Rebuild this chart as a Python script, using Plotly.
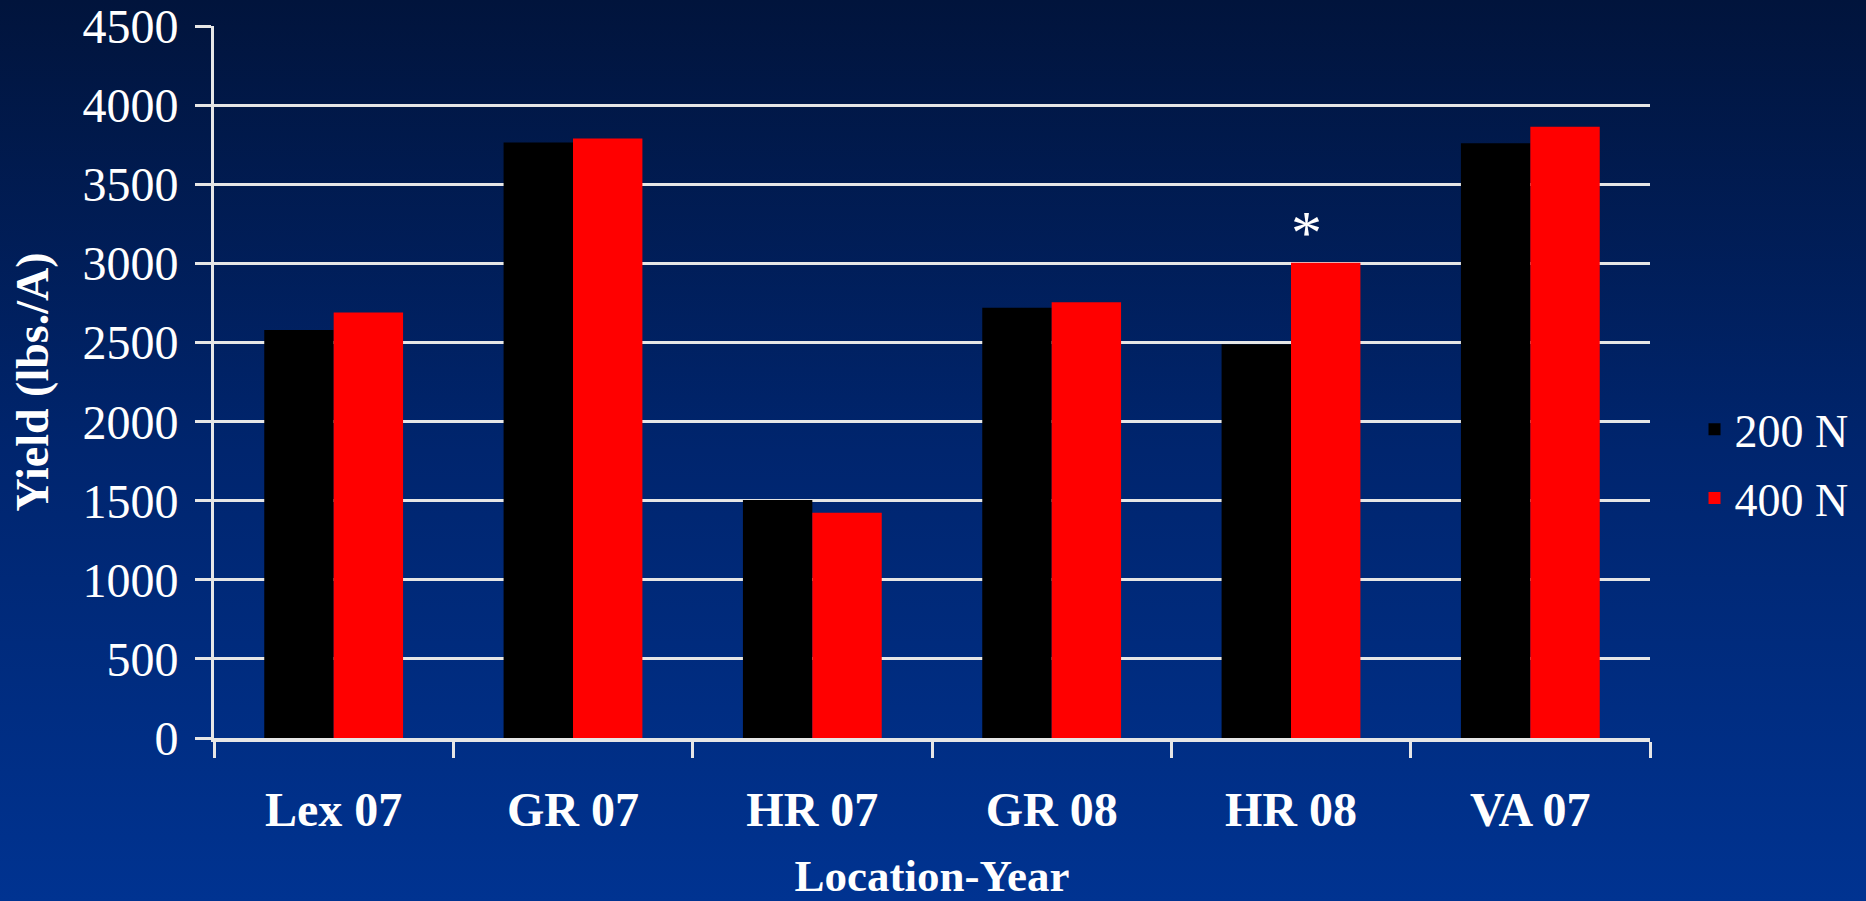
import base64
import plotly.graph_objects as go

categories = ["Lex 07", "GR 07", "HR 07", "GR 08", "HR 08", "VA 07"]
series_names = ["200 N", "400 N"]
yield_200n = [2580, 3765, 1505, 2720, 2490, 3760]
yield_400n = [2690, 3790, 1425, 2755, 3005, 3865]
y_ticks = [0, 500, 1000, 1500, 2000, 2500, 3000, 3500, 4000, 4500]
significant = ["HR 08"]

W, H = 1866, 901
ML, MR, MT, MB = 214, 216, 26, 163
PW, PH = W - ML - MR, H - MT - MB

svg = f'''<svg xmlns="http://www.w3.org/2000/svg" width="{W}" height="{H}" preserveAspectRatio="none">
<defs><linearGradient id="g" x1="0" y1="0" x2="0" y2="1">
<stop offset="0" stop-color="#01143c"/>
<stop offset="0.5" stop-color="#00256e"/>
<stop offset="1" stop-color="#003391"/>
</linearGradient></defs>
<rect x="0" y="0" width="{W}" height="{H}" fill="url(#g)"/></svg>'''
bg_uri = "data:image/svg+xml;base64," + base64.b64encode(svg.encode()).decode()

FONT = "Liberation Serif"

fig = go.Figure()
fig.add_trace(go.Bar(x=categories, y=yield_200n, name=series_names[0], legendgroup="a",
                     marker=dict(color="#000000", line=dict(width=0))))
fig.add_trace(go.Bar(x=categories, y=yield_400n, name=series_names[1], legendgroup="b",
                     marker=dict(color="#ff0000", line=dict(width=0))))

for cat in significant:
    fig.add_annotation(x=cat, y=3200, text="*", showarrow=False, xshift=15,
                       font=dict(family=FONT, size=62, color="white"),
                       yanchor="middle")

fig.update_layout(
    width=W, height=H,
    margin=dict(l=ML, r=MR, t=MT, b=MB, autoexpand=False),
    paper_bgcolor="#00256e",
    plot_bgcolor="rgba(0,0,0,0)",
    barmode="group", bargap=0.42, bargroupgap=0,
    font=dict(family=FONT, color="white", size=44),
    showlegend=True,
    legend=dict(x=1.031, y=0.385, xanchor="left", yanchor="middle",
                bgcolor="rgba(0,0,0,0)", font=dict(family=FONT, size=46, color="white"),
                itemwidth=30, tracegroupgap=6),
    images=[dict(source=bg_uri, xref="paper", yref="paper",
                 x=-ML / PW, y=1 + MT / PH, sizex=W / PW, sizey=H / PH,
                 xanchor="left", yanchor="top", sizing="stretch", layer="below")],
)

fig.update_xaxes(
    type="category", tickson="boundaries", ticks="outside", ticklen=16,
    tickwidth=3, tickcolor="#e6e6e6", showline=True, linecolor="#e6e6e6", linewidth=4,
    showgrid=False, ticklabelstandoff=26,
    tickfont=dict(family=FONT, size=48, color="white", weight="bold"),
    title=dict(text="Location-Year", standoff=26,
               font=dict(family=FONT, size=45, color="white", weight="bold")),
)
fig.update_yaxes(
    range=[0, 4502], tickvals=y_ticks, ticks="outside", ticklen=16, tickwidth=3,
    tickcolor="#e6e6e6", showline=True, linecolor="#e6e6e6", linewidth=3,
    showgrid=True, gridcolor="#e6e6e6", gridwidth=3, zeroline=False,
    ticklabelstandoff=7,
    tickfont=dict(family=FONT, size=48, color="white"),
    title=dict(text="Yield (lbs./A)", standoff=20,
               font=dict(family=FONT, size=46, color="white", weight="bold")),
)

fig.write_html("out.html", config={"displayModeBar": False},
               post_script="document.body.style.margin='0';document.body.style.overflow='hidden';")
